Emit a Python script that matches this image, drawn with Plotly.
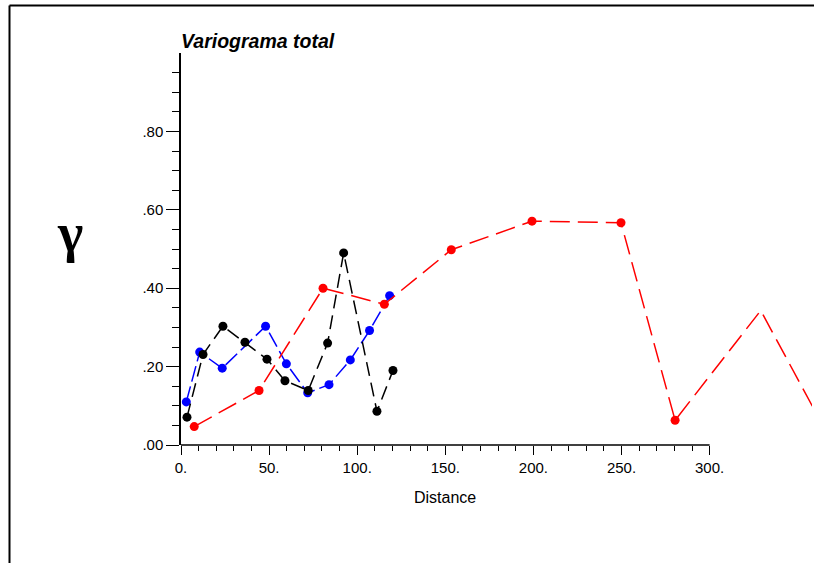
import plotly.graph_objects as go

# ---- data ----
black_x = [3.4, 12.5, 23.8, 36.3, 48.8, 59.0, 72.2, 83.2, 92.3, 111.2, 120.3]
black_y = [0.071, 0.231, 0.303, 0.262, 0.219, 0.164, 0.139, 0.260, 0.490, 0.086, 0.190]

blue_x = [3.0, 10.6, 23.4, 48.0, 59.8, 71.9, 84.0, 96.1, 107.0, 118.4]
blue_y = [0.110, 0.237, 0.196, 0.303, 0.207, 0.133, 0.154, 0.217, 0.292, 0.381]

red_x = [7.5, 44.3, 80.6, 115.4, 153.4, 199.2, 249.7, 280.4, 329.0, 363.0]
red_y = [0.047, 0.139, 0.400, 0.359, 0.498, 0.571, 0.567, 0.063, 0.343, 0.060]

x_ticks = [0, 50, 100, 150, 200, 250, 300]
x_tick_labels = ["0.", "50.", "100.", "150.", "200.", "250.", "300."]
y_ticks = [0.0, 0.2, 0.4, 0.6, 0.8]
y_tick_labels = [".00", ".20", ".40", ".60", ".80"]

title_text = "Variograma total"
x_title = "Distance"
y_title = "γ"

X_AXIS_END = 300
X_MINOR = [v for v in range(10, X_AXIS_END, 10) if v % 50 != 0]
Y_MINOR = [round(k * 0.05, 2) for k in range(1, 20) if k % 4 != 0]

FONT = "Liberation Sans, Arial, sans-serif"

fig = go.Figure()

def add_series(xs, ys, color, dash):
    sizes = [9 if x <= X_AXIS_END else 0 for x in xs]
    fig.add_trace(go.Scatter(
        x=xs, y=ys, mode="lines+markers",
        line=dict(color=color, width=1.5, dash=dash),
        marker=dict(color=color, size=sizes, opacity=1, line=dict(width=0)),
        cliponaxis=True, showlegend=False, hoverinfo="skip"))

add_series(blue_x, blue_y, "#0000FF", "16px,5px")
add_series(black_x, black_y, "#000000", "14px,7px")
add_series(red_x, red_y, "#FF0000", "20px,8px")

W, H = 814, 563
L, R, T, B = 181, 2, 53, 118
pw, ph = W - L - R, H - T - B

def px_to_paper_x(px):
    return (px - L) / pw

def px_to_paper_y(py):
    return (H - B - py) / ph

# x axis line (only up to 300)
fig.add_shape(type="line", xref="x", yref="paper", x0=0, x1=X_AXIS_END, y0=0, y1=0,
              line=dict(color="black", width=1.5))
# frame lines (top and left)
fig.add_shape(type="line", xref="paper", yref="paper",
              x0=px_to_paper_x(9.5), x1=px_to_paper_x(W + 5),
              y0=px_to_paper_y(5.5), y1=px_to_paper_y(5.5),
              line=dict(color="black", width=2))
fig.add_shape(type="line", xref="paper", yref="paper",
              x0=px_to_paper_x(9.5), x1=px_to_paper_x(9.5),
              y0=px_to_paper_y(5.5), y1=px_to_paper_y(H + 5),
              line=dict(color="black", width=2))

fig.add_annotation(text="<b><i>" + title_text + "</i></b>", xref="paper", yref="paper",
                   x=0, y=1.0, xanchor="left", yanchor="bottom", showarrow=False,
                   font=dict(family=FONT, size=19.5, color="black"), xshift=-2, yshift=-1)
fig.add_annotation(text=x_title, xref="x", yref="paper",
                   x=X_AXIS_END / 2, y=px_to_paper_y(498), xanchor="center", yanchor="middle",
                   showarrow=False, font=dict(family=FONT, size=16, color="black"))
fig.add_annotation(text="<b>" + y_title + "</b>", xref="paper", yref="paper",
                   x=px_to_paper_x(70), y=px_to_paper_y(233), xanchor="center", yanchor="middle",
                   showarrow=False, font=dict(family="Liberation Serif, DejaVu Serif, serif", size=54, color="black"))

fig.update_layout(
    width=W, height=H,
    margin=dict(l=L, r=R, t=T, b=B, pad=0),
    paper_bgcolor="white", plot_bgcolor="white",
    font=dict(family=FONT, size=15, color="black"),
    xaxis=dict(range=[0, 358.1], showgrid=False, zeroline=False, showline=False,
               tickmode="array", tickvals=x_ticks, ticktext=x_tick_labels,
               ticks="outside", ticklen=9, tickwidth=1, tickcolor="black",
               minor=dict(tickmode="array", tickvals=X_MINOR, ticks="outside",
                          ticklen=5, tickwidth=1, tickcolor="black"),
               tickfont=dict(family=FONT, size=15, color="black")),
    yaxis=dict(range=[0, 1.0], showgrid=False, zeroline=False, showline=True,
               linecolor="black", linewidth=1.5,
               tickmode="array", tickvals=y_ticks, ticktext=y_tick_labels,
               ticks="outside", ticklen=13, tickwidth=1, tickcolor="black",
               minor=dict(tickmode="array", tickvals=Y_MINOR, ticks="outside",
                          ticklen=7, tickwidth=1, tickcolor="black"),
               tickfont=dict(family=FONT, size=15, color="black")),
)

fig.write_html("out.html", config={"displayModeBar": False},
               post_script="document.body.style.margin='0';")
